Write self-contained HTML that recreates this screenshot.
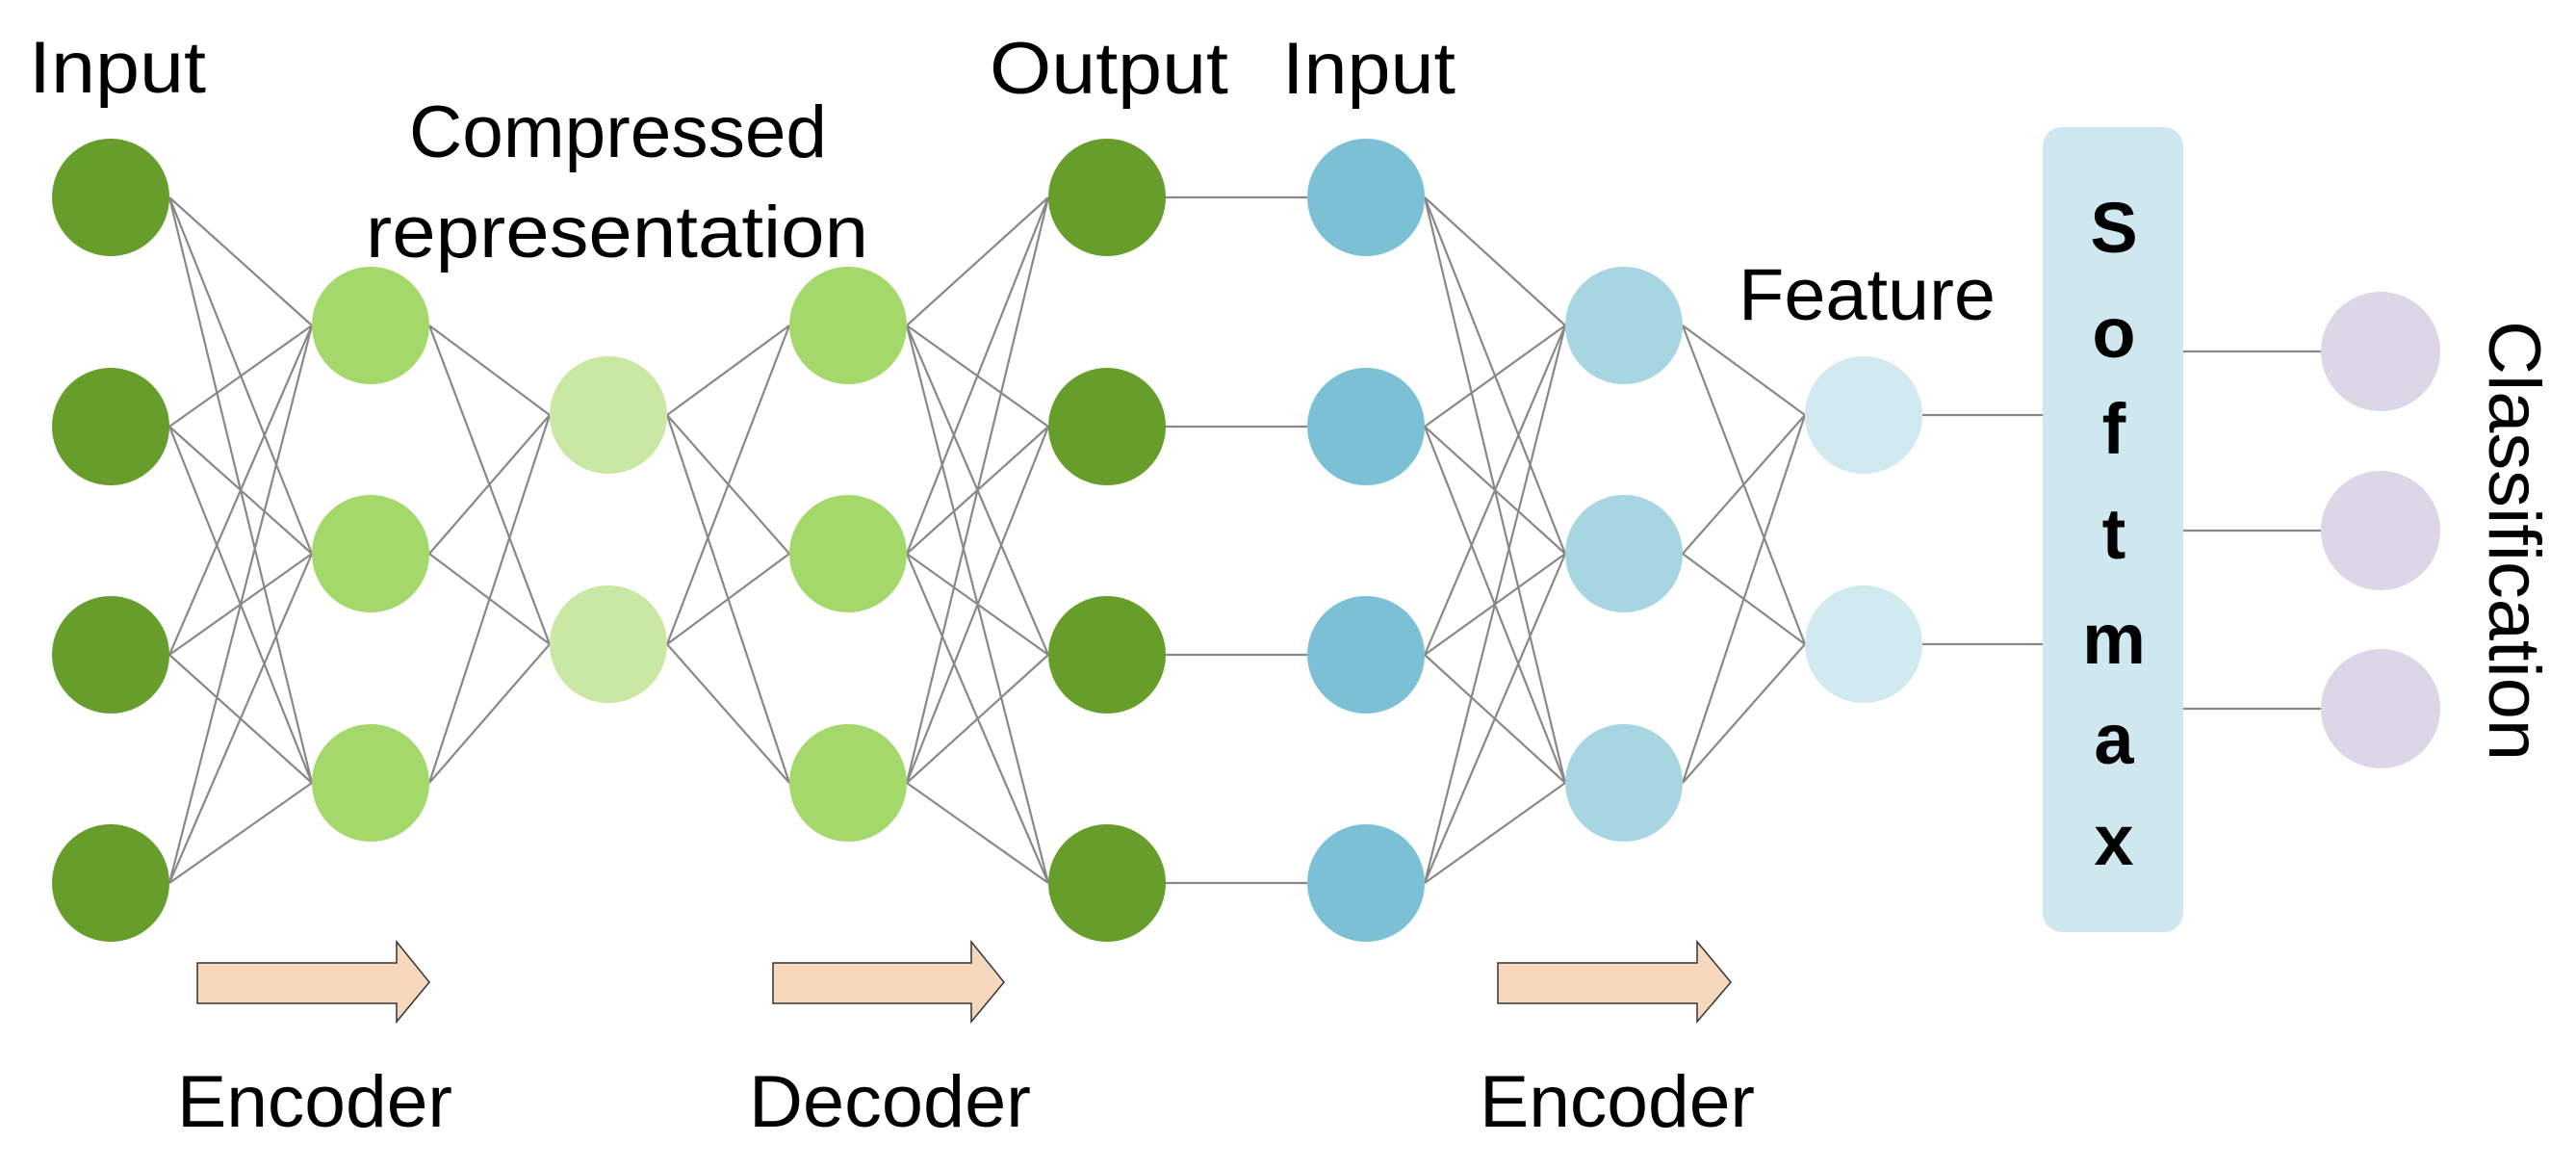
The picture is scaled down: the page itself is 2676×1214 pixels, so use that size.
<!DOCTYPE html>
<html><head><meta charset="utf-8"><style>html,body{margin:0;padding:0;background:#fff}svg{display:block}</style></head>
<body>
<svg width="2676" height="1214" viewBox="0 0 2676 1214" xmlns="http://www.w3.org/2000/svg" font-family="Liberation Sans, sans-serif">
<g stroke="#888" stroke-width="2.2" fill="none">
<path d="M176 205L324 338M176 205L324 575M176 205L324 813M176 443L324 338M176 443L324 575M176 443L324 813M176 680L324 338M176 680L324 575M176 680L324 813M176 917L324 338M176 917L324 575M176 917L324 813"/>
<path d="M446 338L571 431M446 338L571 669M446 575L571 431M446 575L571 669M446 813L571 431M446 813L571 669"/>
<path d="M693 431L820 338M693 431L820 575M693 431L820 813M693 669L820 338M693 669L820 575M693 669L820 813"/>
<path d="M942 338L1089 205M942 338L1089 443M942 338L1089 680M942 338L1089 917M942 575L1089 205M942 575L1089 443M942 575L1089 680M942 575L1089 917M942 813L1089 205M942 813L1089 443M942 813L1089 680M942 813L1089 917"/>
<path d="M1211 205L1358 205M1211 443L1358 443M1211 680L1358 680M1211 917L1358 917"/>
<path d="M1480 205L1626 338M1480 205L1626 575M1480 205L1626 813M1480 443L1626 338M1480 443L1626 575M1480 443L1626 813M1480 680L1626 338M1480 680L1626 575M1480 680L1626 813M1480 917L1626 338M1480 917L1626 575M1480 917L1626 813"/>
<path d="M1748 338L1875 431M1748 338L1875 669M1748 575L1875 431M1748 575L1875 669M1748 813L1875 431M1748 813L1875 669"/>
<path d="M1997 431L2122 431M1997 669L2122 669M2268 365L2411 365M2268 551L2411 551M2268 736L2411 736"/>
</g>
<g fill="#679e2b">
<circle cx="115" cy="205" r="61"/><circle cx="115" cy="443" r="61"/><circle cx="115" cy="680" r="61"/><circle cx="115" cy="917" r="61"/>
<circle cx="1150" cy="205" r="61"/><circle cx="1150" cy="443" r="61"/><circle cx="1150" cy="680" r="61"/><circle cx="1150" cy="917" r="61"/>
</g>
<g fill="#a5d86b">
<circle cx="385" cy="338" r="61"/><circle cx="385" cy="575" r="61"/><circle cx="385" cy="813" r="61"/>
<circle cx="881" cy="338" r="61"/><circle cx="881" cy="575" r="61"/><circle cx="881" cy="813" r="61"/>
</g>
<g fill="#c9e8a4"><circle cx="632" cy="431" r="61"/><circle cx="632" cy="669" r="61"/></g>
<g fill="#7bc0d4"><circle cx="1419" cy="205" r="61"/><circle cx="1419" cy="443" r="61"/><circle cx="1419" cy="680" r="61"/><circle cx="1419" cy="917" r="61"/></g>
<g fill="#a7d5e2"><circle cx="1687" cy="338" r="61"/><circle cx="1687" cy="575" r="61"/><circle cx="1687" cy="813" r="61"/></g>
<g fill="#d0eaf0"><circle cx="1936" cy="431" r="61"/><circle cx="1936" cy="669" r="61"/></g>
<g fill="#dcd6e6"><circle cx="2473" cy="365" r="62"/><circle cx="2473" cy="551" r="62"/><circle cx="2473" cy="736" r="62"/></g>
<rect x="2122" y="132" width="146" height="836" rx="20" fill="#cfe8ef"/>
<g font-weight="bold" font-size="74" text-anchor="middle" fill="#000">
<text x="2196" y="262">S</text><text x="2196" y="371">o</text><text x="2196" y="471">f</text><text x="2196" y="580">t</text><text x="2196" y="689">m</text><text x="2196" y="793">a</text><text x="2196" y="898">x</text>
</g>
<g fill="#f8d8bc" stroke="#333" stroke-width="1.5">
<path d="M205 1000H412V978L446 1020L412 1061V1042H205Z"/>
<path d="M803 1000H1009V978L1043 1020L1009 1061V1042H803Z"/>
<path d="M1556 1000H1763V978L1798 1020L1763 1061V1042H1556Z"/>
</g>
<g font-size="76" fill="#000" lengthAdjust="spacingAndGlyphs">
<text x="30" y="96" textLength="184" lengthAdjust="spacingAndGlyphs">Input</text>
<text x="425" y="163" textLength="434" lengthAdjust="spacingAndGlyphs">Compressed</text>
<text x="380" y="267" textLength="522" lengthAdjust="spacingAndGlyphs">representation</text>
<text x="1028" y="97" textLength="248" lengthAdjust="spacingAndGlyphs">Output</text>
<text x="1332" y="97" textLength="180" lengthAdjust="spacingAndGlyphs">Input</text>
<text x="1806" y="332" textLength="267" lengthAdjust="spacingAndGlyphs">Feature</text>
<text x="184" y="1170" textLength="286" lengthAdjust="spacingAndGlyphs">Encoder</text>
<text x="778" y="1170" textLength="293" lengthAdjust="spacingAndGlyphs">Decoder</text>
<text x="1537" y="1170" textLength="286" lengthAdjust="spacingAndGlyphs">Encoder</text>
<text transform="translate(2586,333) rotate(90)" x="0" y="0" textLength="457" lengthAdjust="spacingAndGlyphs">Classification</text>
</g>
</svg>
</body></html>
